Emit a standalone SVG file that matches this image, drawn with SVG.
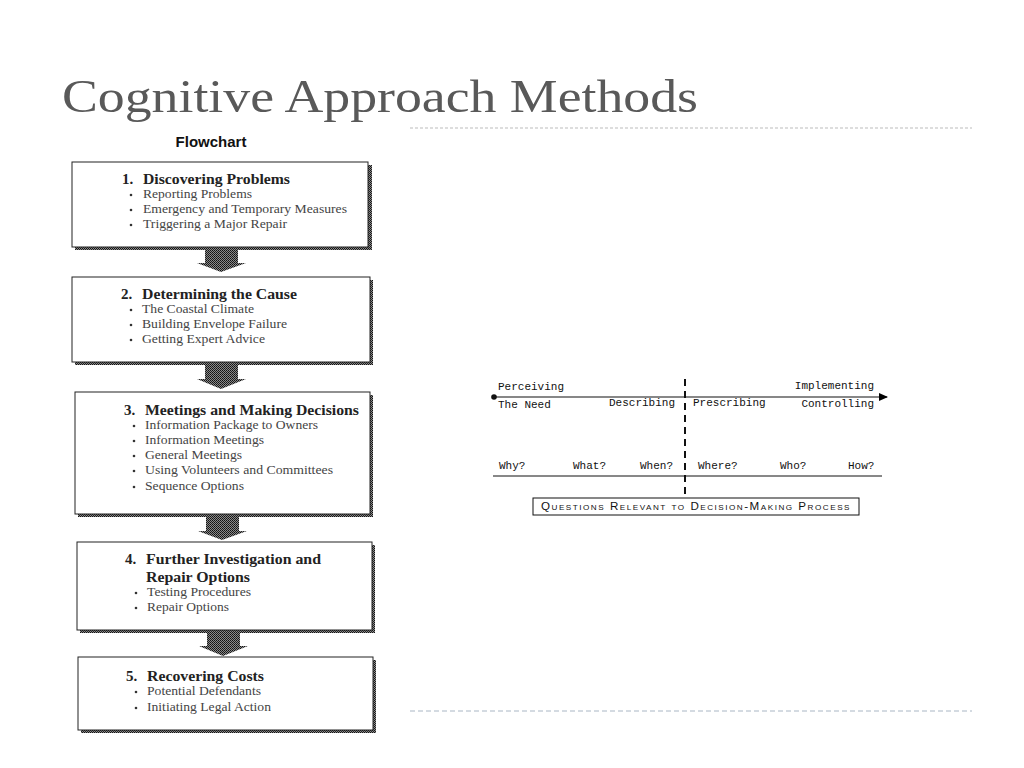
<svg xmlns="http://www.w3.org/2000/svg" width="1024" height="768" viewBox="0 0 1024 768">
<defs>
<pattern id="ht" width="2" height="2" patternUnits="userSpaceOnUse">
<rect width="2" height="2" fill="#8a8a8a"/>
<rect width="1" height="1" fill="#111"/>
<rect x="1" y="1" width="1" height="1" fill="#222"/>
</pattern>
<marker id="ah" markerWidth="10" markerHeight="8" refX="8" refY="4" orient="auto" markerUnits="userSpaceOnUse">
<path d="M0,0 L9,4 L0,8 Z" fill="#000"/>
</marker>
</defs>
<style>
.title{font-family:"Liberation Serif",serif;font-size:46px;fill:#595959}
.fc{font-family:"Liberation Sans",Arial,sans-serif;font-weight:bold;font-size:15px;fill:#111}
.box{fill:#fff;stroke:#222;stroke-width:1}
.shadow{fill:url(#ht)}
.h{font-family:"Liberation Serif",serif;font-weight:bold;font-size:15px;fill:#222}
.b{font-family:"Liberation Serif",serif;font-size:13.5px;fill:#444}
.dot{fill:#333}
.m{font-family:"Liberation Mono",monospace;font-size:11px;fill:#111}
.sc{font-family:"Liberation Sans",Arial,sans-serif;font-size:10px;font-variant:small-caps;letter-spacing:1.3px;fill:#111}
.dash1{stroke:#bbb;stroke-width:1;stroke-dasharray:3,2}
.dash2{stroke:#a9b6c4;stroke-width:1;stroke-dasharray:5,3}
</style>
<rect width="1024" height="768" fill="#fff"/>
<text class="title" x="62" y="112" textLength="636" lengthAdjust="spacingAndGlyphs">Cognitive Approach Methods</text>
<line class="dash1" x1="410" y1="128" x2="972" y2="128"/>
<line class="dash2" x1="410" y1="711" x2="972" y2="711"/>
<text class="fc" x="211" y="147" text-anchor="middle">Flowchart</text>

<g id="connectors">
<path class="shadow" d="M205,248 H238 V263 H246 L221,272 L197,263 H205 Z"/>
<path class="shadow" d="M205,364 H238 V379 H246 L221,389 L197,379 H205 Z"/>
<path class="shadow" d="M206,516 H239 V531 H247 L222,540 L198,531 H206 Z"/>
<path class="shadow" d="M207,632 H240 V646 H248 L223,656 L199,646 H207 Z"/>
<line x1="494" y1="397" x2="887" y2="397" stroke="#111" stroke-width="1.2" marker-end="url(#ah)"/>
<circle cx="494" cy="397" r="2.8" fill="#111"/>
<line x1="685" y1="379" x2="685" y2="494" stroke="#111" stroke-width="2" stroke-dasharray="7,5"/>
<line x1="493" y1="476" x2="882" y2="476" stroke="#111" stroke-width="1"/>
</g>

<g id="node1">
<rect class="shadow" x="75" y="165" width="297" height="85"/>
<rect class="box" x="72" y="162" width="296" height="85"/>
<text class="h" x="122" y="184">1.</text><text class="h" x="143" y="184" textLength="147" lengthAdjust="spacingAndGlyphs">Discovering Problems</text>
<circle class="dot" cx="131" cy="195" r="1.3"/><text class="b" x="143" y="198" textLength="109" lengthAdjust="spacingAndGlyphs">Reporting Problems</text>
<circle class="dot" cx="131" cy="210" r="1.3"/><text class="b" x="143" y="213" textLength="204" lengthAdjust="spacingAndGlyphs">Emergency and Temporary Measures</text>
<circle class="dot" cx="131" cy="225" r="1.3"/><text class="b" x="143" y="228" textLength="144" lengthAdjust="spacingAndGlyphs">Triggering a Major Repair</text>
</g>

<g id="node2">
<rect class="shadow" x="75" y="280" width="298" height="85"/>
<rect class="box" x="72" y="277" width="298" height="85"/>
<text class="h" x="121" y="299">2.</text><text class="h" x="142" y="299" textLength="155" lengthAdjust="spacingAndGlyphs">Determining the Cause</text>
<circle class="dot" cx="131" cy="310" r="1.3"/><text class="b" x="142" y="313" textLength="112" lengthAdjust="spacingAndGlyphs">The Coastal Climate</text>
<circle class="dot" cx="131" cy="325" r="1.3"/><text class="b" x="142" y="328" textLength="145" lengthAdjust="spacingAndGlyphs">Building Envelope Failure</text>
<circle class="dot" cx="131" cy="340" r="1.3"/><text class="b" x="142" y="343" textLength="123" lengthAdjust="spacingAndGlyphs">Getting Expert Advice</text>
</g>

<g id="node3">
<rect class="shadow" x="78" y="395" width="295" height="122"/>
<rect class="box" x="75" y="392" width="295" height="122"/>
<text class="h" x="124" y="415">3.</text><text class="h" x="145" y="415" textLength="214" lengthAdjust="spacingAndGlyphs">Meetings and Making Decisions</text>
<circle class="dot" cx="134" cy="426" r="1.3"/><text class="b" x="145" y="429" textLength="173" lengthAdjust="spacingAndGlyphs">Information Package to Owners</text>
<circle class="dot" cx="134" cy="441" r="1.3"/><text class="b" x="145" y="444" textLength="119" lengthAdjust="spacingAndGlyphs">Information Meetings</text>
<circle class="dot" cx="134" cy="456" r="1.3"/><text class="b" x="145" y="459" textLength="97" lengthAdjust="spacingAndGlyphs">General Meetings</text>
<circle class="dot" cx="134" cy="471" r="1.3"/><text class="b" x="145" y="474" textLength="188" lengthAdjust="spacingAndGlyphs">Using Volunteers and Committees</text>
<circle class="dot" cx="134" cy="487" r="1.3"/><text class="b" x="145" y="490" textLength="99" lengthAdjust="spacingAndGlyphs">Sequence Options</text>
</g>

<g id="node4">
<rect class="shadow" x="80" y="545" width="295" height="88"/>
<rect class="box" x="77" y="542" width="295" height="88"/>
<text class="h" x="125" y="564">4.</text><text class="h" x="146" y="564" textLength="175" lengthAdjust="spacingAndGlyphs">Further Investigation and</text>
<text class="h" x="146" y="582" textLength="104" lengthAdjust="spacingAndGlyphs">Repair Options</text>
<circle class="dot" cx="136" cy="593" r="1.3"/><text class="b" x="147" y="596" textLength="104" lengthAdjust="spacingAndGlyphs">Testing Procedures</text>
<circle class="dot" cx="136" cy="608" r="1.3"/><text class="b" x="147" y="611" textLength="82" lengthAdjust="spacingAndGlyphs">Repair Options</text>
</g>

<g id="node5">
<rect class="shadow" x="81" y="660" width="295" height="73"/>
<rect class="box" x="78" y="657" width="295" height="73"/>
<text class="h" x="126" y="681">5.</text><text class="h" x="147" y="681" textLength="117" lengthAdjust="spacingAndGlyphs">Recovering Costs</text>
<circle class="dot" cx="136" cy="692" r="1.3"/><text class="b" x="147" y="695" textLength="114" lengthAdjust="spacingAndGlyphs">Potential Defendants</text>
<circle class="dot" cx="136" cy="708" r="1.3"/><text class="b" x="147" y="711" textLength="124" lengthAdjust="spacingAndGlyphs">Initiating Legal Action</text>
</g>

<g id="process-labels">
<text class="m" x="498" y="390">Perceiving</text>
<text class="m" x="498" y="408">The Need</text>
<text class="m" x="675" y="406" text-anchor="end">Describing</text>
<text class="m" x="693" y="406">Prescribing</text>
<text class="m" x="874" y="389" text-anchor="end">Implementing</text>
<text class="m" x="874" y="407" text-anchor="end">Controlling</text>
<text class="m" x="499" y="469">Why?</text>
<text class="m" x="573" y="469">What?</text>
<text class="m" x="640" y="469">When?</text>
<text class="m" x="698" y="469">Where?</text>
<text class="m" x="780" y="469">Who?</text>
<text class="m" x="848" y="469">How?</text>
</g>

<g id="caption">
<rect x="533" y="498" width="326" height="17" fill="#fff" stroke="#111" stroke-width="1"/>
<text class="sc" x="696" y="510" text-anchor="middle" textLength="310" lengthAdjust="spacingAndGlyphs">Questions Relevant to Decision-Making Process</text>
</g>
</svg>
